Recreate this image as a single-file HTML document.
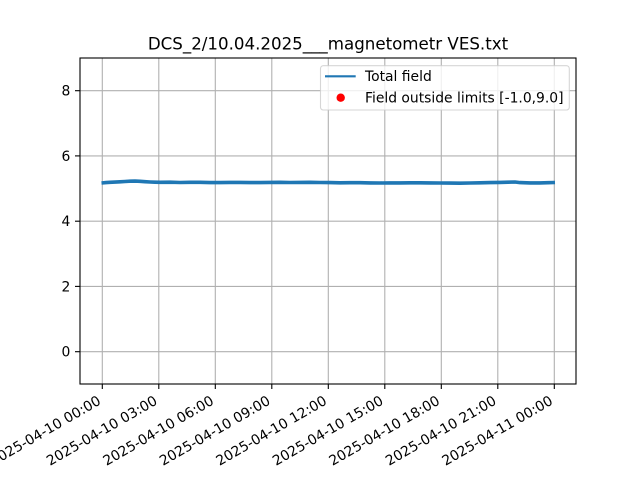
<!DOCTYPE html>
<html><head><meta charset="utf-8"><style>
html,body{margin:0;padding:0;background:#fff;}
svg{display:block;}
text{font-family:"DejaVu Sans","Liberation Sans",sans-serif;fill:#000;}
</style></head><body>
<svg width="640" height="480" viewBox="0 0 640 480" xmlns="http://www.w3.org/2000/svg">
<rect width="640" height="480" fill="#fff"/>
<!-- grid -->
<g stroke="#b0b0b0" stroke-width="1.1">
<line x1="102.3" y1="58" x2="102.3" y2="384"/>
<line x1="158.8" y1="58" x2="158.8" y2="384"/>
<line x1="215.3" y1="58" x2="215.3" y2="384"/>
<line x1="271.8" y1="58" x2="271.8" y2="384"/>
<line x1="328.3" y1="58" x2="328.3" y2="384"/>
<line x1="384.8" y1="58" x2="384.8" y2="384"/>
<line x1="441.3" y1="58" x2="441.3" y2="384"/>
<line x1="497.8" y1="58" x2="497.8" y2="384"/>
<line x1="554.3" y1="58" x2="554.3" y2="384"/>
<line x1="80" y1="351.7" x2="576" y2="351.7"/>
<line x1="80" y1="286.4" x2="576" y2="286.4"/>
<line x1="80" y1="221.2" x2="576" y2="221.2"/>
<line x1="80" y1="155.9" x2="576" y2="155.9"/>
<line x1="80" y1="90.7" x2="576" y2="90.7"/>
</g>
<!-- data line -->
<path d="M101.5,183 L106,182.6 L110,182.3 L115,182.1 L120,181.8 L125,181.5 L130,181.2 L135,181.1 L140,181.3 L145,181.7 L150,182 L155,182.2 L160,182.3 L170,182.2 L180,182.5 L190,182.3 L200,182.3 L210,182.6 L220,182.6 L230,182.4 L240,182.4 L250,182.6 L260,182.6 L270,182.4 L280,182.3 L290,182.5 L300,182.4 L310,182.3 L320,182.5 L330,182.6 L340,182.8 L350,182.7 L360,182.7 L370,182.9 L380,183 L390,182.9 L400,182.9 L410,182.8 L420,182.8 L430,182.9 L440,183 L450,183.1 L460,183.2 L470,183 L480,182.8 L490,182.6 L500,182.4 L508,182.2 L515,182 L520,182.6 L530,182.9 L540,182.9 L548,182.7 L555,182.5" fill="none" stroke="#1f77b4" stroke-width="3.6" stroke-linejoin="round"/>
<!-- spines -->
<rect x="80" y="58" width="496" height="326" fill="none" stroke="#000" stroke-width="1.1"/>
<!-- ticks -->
<g stroke="#000" stroke-width="1.1">
<line x1="102.3" y1="384" x2="102.3" y2="389"/>
<line x1="158.8" y1="384" x2="158.8" y2="389"/>
<line x1="215.3" y1="384" x2="215.3" y2="389"/>
<line x1="271.8" y1="384" x2="271.8" y2="389"/>
<line x1="328.3" y1="384" x2="328.3" y2="389"/>
<line x1="384.8" y1="384" x2="384.8" y2="389"/>
<line x1="441.3" y1="384" x2="441.3" y2="389"/>
<line x1="497.8" y1="384" x2="497.8" y2="389"/>
<line x1="554.3" y1="384" x2="554.3" y2="389"/>
<line x1="75" y1="351.7" x2="80" y2="351.7"/>
<line x1="75" y1="286.4" x2="80" y2="286.4"/>
<line x1="75" y1="221.2" x2="80" y2="221.2"/>
<line x1="75" y1="155.9" x2="80" y2="155.9"/>
<line x1="75" y1="90.7" x2="80" y2="90.7"/>
</g>
<!-- y labels -->
<g font-size="13.89" text-anchor="end">
<text x="70.3" y="356.7">0</text>
<text x="70.3" y="291.4">2</text>
<text x="70.3" y="226.2">4</text>
<text x="70.3" y="160.9">6</text>
<text x="70.3" y="95.7">8</text>
</g>
<!-- x labels -->
<g font-size="13.89" text-anchor="end">
<text transform="translate(101.8,403.5) rotate(-30)">2025-04-10 00:00</text>
<text transform="translate(158.3,403.5) rotate(-30)">2025-04-10 03:00</text>
<text transform="translate(214.8,403.5) rotate(-30)">2025-04-10 06:00</text>
<text transform="translate(271.3,403.5) rotate(-30)">2025-04-10 09:00</text>
<text transform="translate(327.8,403.5) rotate(-30)">2025-04-10 12:00</text>
<text transform="translate(384.3,403.5) rotate(-30)">2025-04-10 15:00</text>
<text transform="translate(440.8,403.5) rotate(-30)">2025-04-10 18:00</text>
<text transform="translate(497.3,403.5) rotate(-30)">2025-04-10 21:00</text>
<text transform="translate(553.8,403.5) rotate(-30)">2025-04-11 00:00</text>
</g>
<!-- title -->
<text x="328" y="49.5" font-size="16.67" text-anchor="middle">DCS_2/10.04.2025___magnetometr VES.txt</text>
<!-- legend -->
<rect x="320.5" y="65.7" width="248.8" height="44.3" rx="2.8" ry="2.8" fill="#fff" fill-opacity="0.8" stroke="#cccccc" stroke-opacity="0.8" stroke-width="1.1"/>
<line x1="325" y1="76.3" x2="355.7" y2="76.3" stroke="#1f77b4" stroke-width="2.1"/>
<circle cx="340.7" cy="97.7" r="4.2" fill="#ff0000"/>
<g font-size="13.89">
<text x="365" y="81.2">Total field</text>
<text x="365" y="102.4">Field outside limits [-1.0,9.0]</text>
</g>
</svg>
</body></html>
